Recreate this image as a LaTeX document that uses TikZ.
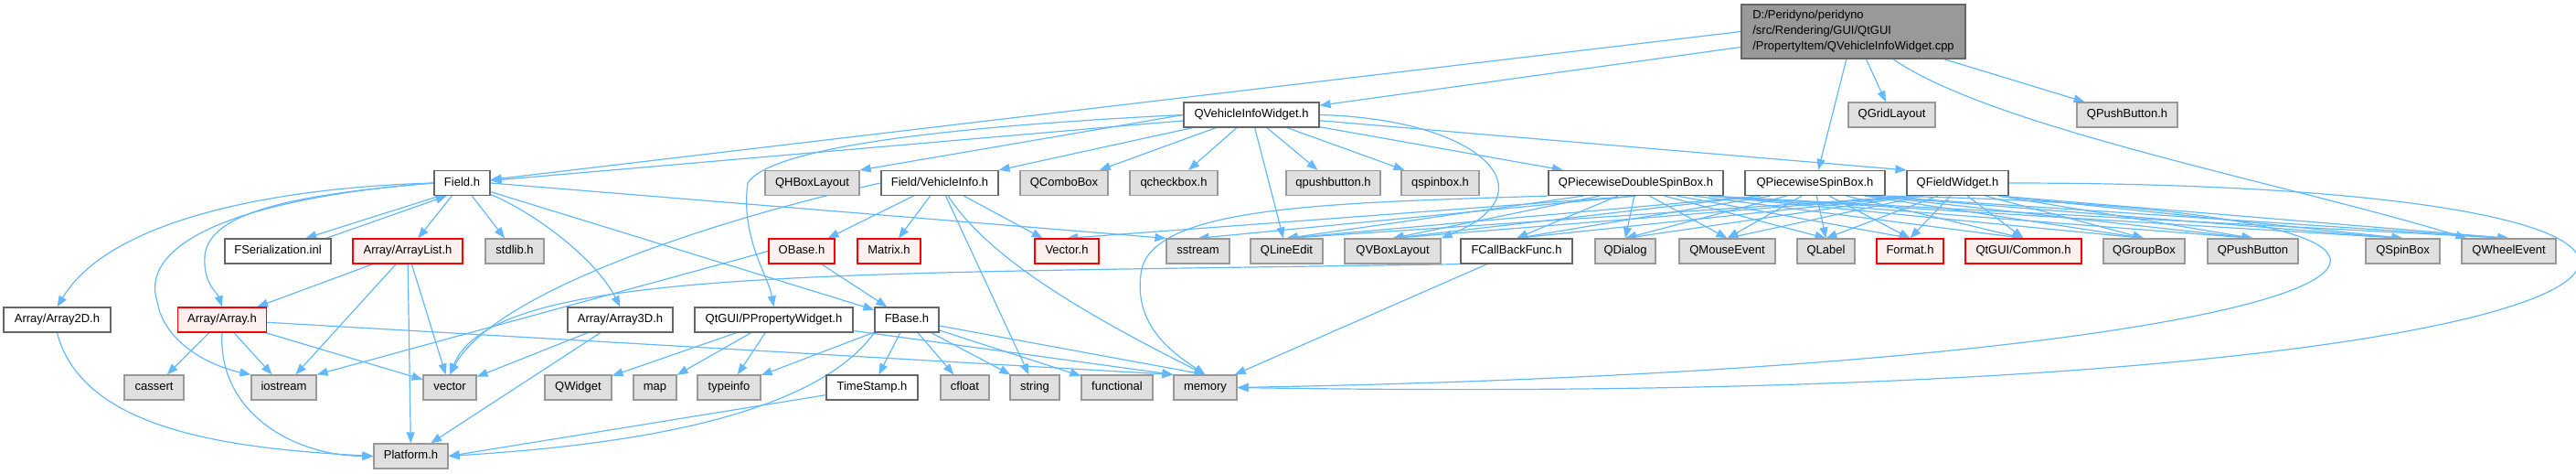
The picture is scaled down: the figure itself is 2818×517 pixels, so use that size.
\documentclass[tikz,border=0pt]{standalone}
\usepackage{fontspec}
\setmainfont{Liberation Sans}
\usetikzlibrary{arrows.meta,calc}
\definecolor{deplink}{RGB}{99,184,255}
\definecolor{sysfill}{RGB}{224,224,224}
\definecolor{sysline}{RGB}{153,153,153}
\definecolor{hdrline}{RGB}{102,102,102}
\definecolor{redfill}{RGB}{255,240,240}
\definecolor{cppfill}{RGB}{153,153,153}
\pgfdeclarelayer{background}
\pgfsetlayers{background,main}
\tikzset{hdr/.style={draw=hdrline,fill=white,line width=1.2pt,minimum height=27pt,inner sep=0pt,
 text height=9.5pt,text depth=2.8pt,font=\fontsize{13}{16}\selectfont},
 syshdr/.style={hdr,draw=sysline,fill=sysfill},redhdr/.style={hdr,draw=red,fill=redfill},
 cppfile/.style={draw=hdrline,fill=cppfill,line width=1.2pt,inner sep=0pt,align=left,
 minimum width=245pt,minimum height=59pt,font=\fontsize{13}{17}\selectfont},
 wd/.style={minimum width=#1pt},
 dep/.style={draw=deplink,line width=1.2pt,-{Triangle[length=12pt,width=9pt]}}}
\begin{document}
\begin{tikzpicture}[x=1pt,y=-1pt]
\useasboundingbox (0,0) rectangle (2818,517);
\node[cppfile] (cpp) at (2027.5,34.5) {D:/Peridyno/peridyno\\/src/Rendering/GUI/QtGUI\\/PropertyItem/QVehicleInfoWidget.cpp};
\node[hdr,wd=148] (widgeth) at (1369,125.5) {QVehicleInfoWidget.h};
\node[syshdr,wd=95] (qgridlayout) at (2069.5,125.5) {QGridLayout};
\node[syshdr,wd=110] (qpushbuttonh) at (2327,125.5) {QPushButton.h};
\node[hdr,wd=61] (fieldh) at (505.5,200) {Field.h};
\node[syshdr,wd=103] (qhboxlayout) at (888.5,200) {QHBoxLayout};
\node[hdr,wd=128] (vehicleinfo) at (1028,200) {Field/VehicleInfo.h};
\node[syshdr,wd=96] (qcombobox) at (1164,200) {QComboBox};
\node[syshdr,wd=96] (qcheckbox) at (1284,200) {qcheckbox.h};
\node[syshdr,wd=103] (qpushbuttonlc) at (1458.5,200) {qpushbutton.h};
\node[syshdr,wd=85] (qspinboxlc) at (1575.5,200) {qspinbox.h};
\node[hdr,wd=191] (doublespin) at (1789.5,200) {QPiecewiseDoubleSpinBox.h};
\node[hdr,wd=153] (piecespin) at (1985.5,200) {QPiecewiseSpinBox.h};
\node[hdr,wd=111] (fieldwidget) at (2141.5,200) {QFieldWidget.h};
\node[hdr,wd=116] (fserial) at (304,274.5) {FSerialization.inl};
\node[redhdr,wd=120] (arraylist) at (446,274.5) {Array/ArrayList.h};
\node[syshdr,wd=64] (stdlibh) at (563,274.5) {stdlib.h};
\node[redhdr,wd=72] (obase) at (877,274.5) {OBase.h};
\node[redhdr,wd=69] (matrixh) at (972.5,274.5) {Matrix.h};
\node[redhdr,wd=70] (vectorh) at (1167,274.5) {Vector.h};
\node[syshdr,wd=69] (sstream) at (1310.5,274.5) {sstream};
\node[syshdr,wd=79] (qlineedit) at (1407.5,274.5) {QLineEdit};
\node[syshdr,wd=105] (qvboxlayout) at (1523.5,274.5) {QVBoxLayout};
\node[hdr,wd=122] (callback) at (1659,274.5) {FCallBackFunc.h};
\node[syshdr,wd=66] (qdialog) at (1778,274.5) {QDialog};
\node[syshdr,wd=105] (qmouseevent) at (1889.5,274.5) {QMouseEvent};
\node[syshdr,wd=63] (qlabel) at (1997.5,274.5) {QLabel};
\node[redhdr,wd=73] (formath) at (2089.5,274.5) {Format.h};
\node[redhdr,wd=127] (commonh) at (2213.5,274.5) {QtGUI/Common.h};
\node[syshdr,wd=89] (qgroupbox) at (2345.5,274.5) {QGroupBox};
\node[syshdr,wd=99] (qpushbutton) at (2464.5,274.5) {QPushButton};
\node[syshdr,wd=81] (qspinbox) at (2628.5,274.5) {QSpinBox};
\node[syshdr,wd=103] (qwheelevent) at (2744.5,274.5) {QWheelEvent};
\node[hdr,wd=117] (array2d) at (62.5,349.5) {Array/Array2D.h};
\node[redhdr,wd=97] (arrayh) at (243,349.5) {Array/Array.h};
\node[hdr,wd=115] (array3d) at (678.5,349.5) {Array/Array3D.h};
\node[hdr,wd=173] (propwidget) at (846.5,349.5) {QtGUI/PPropertyWidget.h};
\node[hdr,wd=70] (fbase) at (992,349.5) {FBase.h};
\node[syshdr,wd=65] (cassert) at (168.5,423.5) {cassert};
\node[syshdr,wd=71] (iostream) at (310.5,423.5) {iostream};
\node[syshdr,wd=58] (stdvector) at (492,423.5) {vector};
\node[syshdr,wd=73] (qwidget) at (632.5,423.5) {QWidget};
\node[syshdr,wd=47] (stdmap) at (716.5,423.5) {map};
\node[syshdr,wd=69] (typeinfo) at (797.5,423.5) {typeinfo};
\node[hdr,wd=100] (timestamp) at (954,423.5) {TimeStamp.h};
\node[syshdr,wd=53] (cfloat) at (1055.5,423.5) {cfloat};
\node[syshdr,wd=54] (stdstring) at (1132,423.5) {string};
\node[syshdr,wd=78] (functional) at (1222,423.5) {functional};
\node[syshdr,wd=69] (memory) at (1318.5,423.5) {memory};
\node[syshdr,wd=81] (platform) at (449.5,498.5) {Platform.h};
\begin{pgfonlayer}{background}
\draw[dep] (cpp) -- (widgeth);
\draw[dep] (cpp.west) -- (fieldh);
\foreach \dst in {piecespin,qgridlayout,qpushbuttonh} \draw[dep] (cpp) -- (\dst);
\draw[dep] (cpp) .. controls (2180,140) and (2500,200) .. (qwheelevent);
\draw[dep] (widgeth) -- (fieldh);
\draw[dep] (widgeth.west) -- (qhboxlayout.north east);
\foreach \dst in {vehicleinfo,qcombobox,qcheckbox,qpushbuttonlc,qspinboxlc,doublespin,qlineedit}
 \draw[dep] (widgeth) -- (\dst);
\draw[dep] (widgeth) -- (fieldwidget.north west);
\draw[dep] (widgeth.east) .. controls (1620,130) and (1700,210) .. (qvboxlayout.north east);
\draw[dep] (widgeth.west) .. controls (1000,140) and (840,165) .. (818,200) .. controls (810,260) and (840,300) .. (propwidget.north);
\draw[dep] (fieldh.210) -- (fserial.25);
\draw[dep] (fserial.15) -- (fieldh.220);
\foreach \dst in {arraylist,stdlibh,fbase} \draw[dep] (fieldh) -- (\dst);
\draw[dep] (fieldh.east) -- (sstream.north west);
\draw[dep] (fieldh) .. controls (580,230) and (650,280) .. (array3d.north);
\draw[dep] (fieldh.west) .. controls (300,205) and (120,240) .. (array2d.north);
\draw[dep] (fieldh.west) .. controls (330,212) and (228,230) .. (224,280) .. controls (222,310) and (238,320) .. (arrayh.north);
\draw[dep] (fieldh.west) .. controls (280,215) and (150,260) .. (172,330) .. controls (180,375) and (230,400) .. (iostream.north west);
\foreach \dst in {obase,matrixh,vectorh,stdstring} \draw[dep] (vehicleinfo) -- (\dst);
\draw[dep] (vehicleinfo) .. controls (1080,280) and (1180,340) .. (memory.north);
\draw[dep] (vehicleinfo.west) .. controls (780,240) and (540,320) .. (stdvector.north);
\draw[dep] (obase) -- (fbase);
\draw[dep] (obase.west) -- (iostream.north east);
\foreach \dst in {arrayh,iostream,stdvector,platform} \draw[dep] (arraylist) -- (\dst);
\foreach \dst in {cassert,iostream,stdvector} \draw[dep] (arrayh) -- (\dst);
\draw[dep] (arrayh) -- (memory.north west);
\draw[dep] (arrayh.south) .. controls (238,450) and (320,498) .. (platform.west);
\draw[dep] (array2d.south) .. controls (90,470) and (250,490) .. (platform.west);
\draw[dep] (array3d) -- (stdvector);
\draw[dep] (array3d) -- (platform);
\foreach \dst in {qwidget,stdmap,typeinfo} \draw[dep] (propwidget) -- (\dst);
\draw[dep] (propwidget) -- (memory.north west);
\foreach \dst in {timestamp,cfloat,stdstring,functional,typeinfo} \draw[dep] (fbase) -- (\dst);
\draw[dep] (fbase) -- (memory.north);
\draw[dep] (fbase.south west) .. controls (880,470) and (620,490) .. (platform.east);
\draw[dep] (timestamp) -- (platform.east);
\draw[dep] (callback) -- (memory);
\draw[dep] (callback.south west) .. controls (900,300) and (540,292) .. (stdvector.north);
\foreach \src/\lim in {doublespin/80,piecespin/60,fieldwidget/45}
 \foreach \dst in {qlineedit,qvboxlayout,callback,qdialog,qmouseevent,qlabel,formath,commonh,qgroupbox,qpushbutton,qspinbox,qwheelevent}
 \draw[dep] let \p1=(\src.south), \p2=(\dst.north), \n1={max(min(0.15*(\x2-\x1),\lim),-\lim)} in (\x1+\n1,\y1) -- (\p2);
\draw[dep] (doublespin.south) -- (vectorh.north);
\draw[dep] (doublespin.south) -- (sstream.north);
\draw[dep] (doublespin.south west) .. controls (1450,222) and (1255,225) .. (1248,300) .. controls (1240,360) and (1290,390) .. (memory.north);
\draw[dep] (piecespin.south east) .. controls (2900,230) and (2650,400) .. (memory.east);
\draw[dep] (fieldwidget.east) .. controls (3230,200) and (3000,450) .. (memory.east);
\end{pgfonlayer}
\end{tikzpicture}
\end{document}
